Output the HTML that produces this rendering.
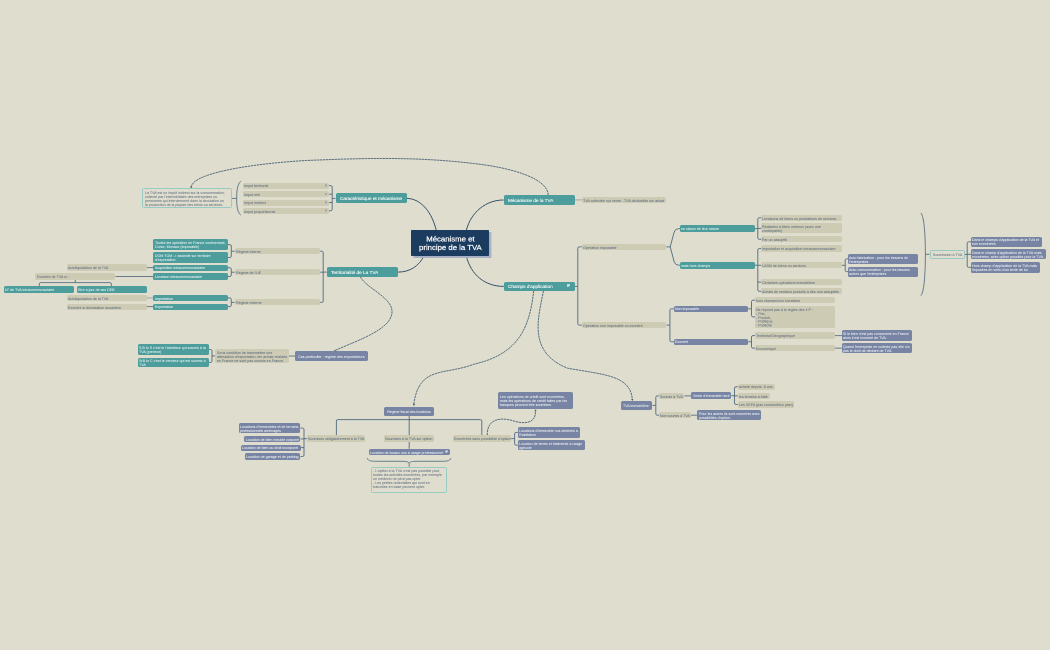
<!DOCTYPE html>
<html><head><meta charset="utf-8"><style>
html,body{margin:0;padding:0;}
body{width:1050px;height:650px;background:#dfddce;position:relative;overflow:hidden;font-family:"Liberation Sans",sans-serif;}
.n{position:absolute;box-sizing:border-box;border-radius:1.6px;overflow:visible;}
.tx{white-space:nowrap;position:absolute;transform:scale(0.5);transform-origin:0 0;will-change:transform;}
.nc{background:#1b3b5f;color:#fff;box-shadow:2.4px 2.1px 0 #a9b0c4;border-radius:0.8px;}
.nc .tx{font-weight:normal;-webkit-text-stroke:0.45px #fff;}
.nT{background:#4d9d9c;color:#fff;}
.nT .tx{-webkit-text-stroke:0.2px #fff;}
.nt{background:#4d9d9c;color:#fff;}
.nt .tx,.np .tx{-webkit-text-stroke:0;}
.np{background:#7784a3;color:#fff;}
.nb{background:#cecbb4;color:#51637a;}
.nn{background:transparent;border:0.6px solid #98cac3;color:#56677a;border-radius:1.4px;}
.ic{position:absolute;clip-path:polygon(0 0,100% 0,100% 50%,50% 100%,0 100%);}
svg{position:absolute;left:0;top:0;}
</style></head><body>
<svg width="1050" height="650" viewBox="0 0 1050 650">
<path d="M436.3,230.4 C432,213 422,199 406.8,198.3" stroke="#34526c" stroke-width="1.0" fill="none"/>
<path d="M466.3,230.4 C471,212 486,200 503.6,200" stroke="#34526c" stroke-width="1.0" fill="none"/>
<path d="M423.9,256 C419,266 410,272 398.1,272.1" stroke="#34526c" stroke-width="1.0" fill="none"/>
<path d="M466.3,256 C471,275 485,286.4 503.8,286.4" stroke="#34526c" stroke-width="1.0" fill="none"/>
<path d="M335.5,198.4 H332.2 M332.2,194.15 H329.0 M332.2,202.55 H329.0 M332.2,198.4 V187.05 Q332.2,185.65 330.8,185.65 H329.0 M332.2,198.4 V209.4 Q332.2,210.8 330.8,210.8 H329.0 " stroke="#47627a" stroke-width="0.85" fill="none"/>
<path d="M240.9,181.2 C237.2,184 236.6,192 236.7,198.4 C236.6,204.8 237.2,212.6 240.9,215.2 M236.7,198.4 H231.5" stroke="#47627a" stroke-width="0.8" fill="none"/>
<path d="M548.2,195.0 C547.8,178.5 512.0,167.7 473.5,163.5 C413.8,156.3 359.7,158.3 306.3,160.5 C265.6,162.7 193.5,171.1 191.1,187.0" stroke="#34506a" stroke-width="0.8" fill="none" stroke-dasharray="2.4 0.6"/>
<path d="M191.00,188.60 L190.19,186.47 L192.37,186.77 Z" fill="#3b556b"/>
<path d="M575,199.9 H581.8" stroke="#9aa3a8" stroke-width="0.9" fill="none"/>
<path d="M326.8,272.1 H323.2 M323.2,272.2 H320.1 M323.2,272.1 V252.6 Q323.2,251.2 321.8,251.2 H320.1 M323.2,272.1 V301.0 Q323.2,302.4 321.8,302.4 H320.1 " stroke="#47627a" stroke-width="0.85" fill="none"/>
<path d="M234.7,251.2 H231.3 M231.3,251.2 V246.0 Q231.3,244.6 229.9,244.6 H228.0 M231.3,251.2 V256.1 Q231.3,257.5 229.9,257.5 H228.0 " stroke="#47627a" stroke-width="0.85" fill="none"/>
<path d="M234.7,272.2 H231.3 M231.3,272.2 V269.15 Q231.3,267.75 229.9,267.75 H228.0 M231.3,272.2 V275.1 Q231.3,276.5 229.9,276.5 H228.0 " stroke="#47627a" stroke-width="0.85" fill="none"/>
<path d="M234.7,302.4 H231.3 M231.3,302.4 V299.34999999999997 Q231.3,297.95 229.9,297.95 H228.0 M231.3,302.4 V305.20000000000005 Q231.3,306.6 229.9,306.6 H228.0 " stroke="#47627a" stroke-width="0.85" fill="none"/>
<path d="M153.4,267.6 H146.9" stroke="#47627a" stroke-width="0.8" fill="none"/>
<path d="M153.4,276.5 H115.4" stroke="#47627a" stroke-width="0.8" fill="none"/>
<path d="M153.4,297.95 H146.9" stroke="#9aa3a8" stroke-width="0.9" fill="none"/>
<path d="M153.4,306.6 H146.9" stroke="#47627a" stroke-width="0.8" fill="none"/>
<path d="M75.3,279.7 V282.6 M39.3,286.4 V284 Q39.3,282.6 40.7,282.6 H109.9 Q111.4,282.6 111.4,284 V286.4" stroke="#47627a" stroke-width="0.8" fill="none"/>
<path d="M360.3,276.8 C368.0,291.1 405.0,301.2 387.3,322.8 C375.8,335.0 351.8,342.7 335.0,350.6" stroke="#34506a" stroke-width="0.8" fill="none" stroke-dasharray="2.4 0.6"/>
<path d="M333.70,351.30 L335.05,349.46 L335.98,351.45 Z" fill="#3b556b"/>
<path d="M295.3,356.05 H288.7" stroke="#47627a" stroke-width="0.8" fill="none"/>
<path d="M215.4,355.95 H212.0 M212.0,355.95 V350.9 Q212.0,349.5 210.6,349.5 H208.8 M212.0,355.95 V361.05 Q212.0,362.45 210.6,362.45 H208.8 " stroke="#47627a" stroke-width="0.85" fill="none"/>
<path d="M574.9,286.4 H577.8 M577.8,286.4 V248.25 Q577.8,246.85 579.1999999999999,246.85 H581.8 M577.8,286.4 V323.70000000000005 Q577.8,325.1 579.1999999999999,325.1 H581.8 " stroke="#47627a" stroke-width="0.85" fill="none"/>
<path d="M666.5,246.85 H670.2 L674.2,232 Q675.3,228.65 678.6,228.65 H680.1 M670.2,246.85 L674.2,261.8 Q675.3,265.2 678.6,265.2 H680.1" stroke="#47627a" stroke-width="0.85" fill="none"/>
<path d="M754.9,228.65 H757.8 M757.8,228.4 H761.0 M757.8,228.65 V219.20000000000002 Q757.8,217.8 759.1999999999999,217.8 H761.0 M757.8,228.65 V237.9 Q757.8,239.3 759.1999999999999,239.3 H761.0 " stroke="#47627a" stroke-width="0.85" fill="none"/>
<path d="M754.9,265.2 H757.8 M757.8,265.3 H761.0 M757.8,282.1 H761.0 M757.8,265.2 V249.95000000000002 Q757.8,248.55 759.1999999999999,248.55 H761.0 M757.8,265.2 V289.90000000000003 Q757.8,291.3 759.1999999999999,291.3 H761.0 " stroke="#47627a" stroke-width="0.85" fill="none"/>
<path d="M841.5,265.3 H845.2 M845.2,265.3 V260.25 Q845.2,258.85 846.6,258.85 H848.2 M845.2,265.3 V270.25 Q845.2,271.65 846.6,271.65 H848.2 " stroke="#47627a" stroke-width="0.85" fill="none"/>
<path d="M920.8,213 C924.5,216 925.4,240 925.4,254.3 C925.4,268.6 924.5,292.6 920.8,295.6 M925.4,254.3 H929.6" stroke="#47627a" stroke-width="0.8" fill="none"/>
<path d="M964.7,254.45 H967.2 M967.2,254.3 H971.1 M967.2,254.45 V243.20000000000002 Q967.2,241.8 968.6,241.8 H971.1 M967.2,254.45 V265.95000000000005 Q967.2,267.35 968.6,267.35 H971.1 " stroke="#47627a" stroke-width="0.85" fill="none"/>
<path d="M666.5,325.1 H669.9 M669.9,325.1 V310.2 Q669.9,308.8 671.3,308.8 H673.9 M669.9,325.1 V340.35 Q669.9,341.75 671.3,341.75 H673.9 " stroke="#47627a" stroke-width="0.85" fill="none"/>
<path d="M748.2,308.8 H751.5 M751.5,308.8 V301.54999999999995 Q751.5,300.15 752.9,300.15 H755.0 M751.5,308.8 V315.45000000000005 Q751.5,316.85 752.9,316.85 H755.0 " stroke="#47627a" stroke-width="0.85" fill="none"/>
<path d="M748.2,341.75 H751.5 M751.5,341.75 V337.0 Q751.5,335.6 752.9,335.6 H755.0 M751.5,341.75 V346.75 Q751.5,348.15 752.9,348.15 H755.0 " stroke="#47627a" stroke-width="0.85" fill="none"/>
<path d="M834.8,335.6 H842" stroke="#47627a" stroke-width="0.8" fill="none"/>
<path d="M834.8,348.15 H842" stroke="#47627a" stroke-width="0.8" fill="none"/>
<path d="M533.7,290.9 C529.6,327.6 518.8,354.0 473.9,364.2 C444.7,375.5 419.3,365.3 413.8,404.0" stroke="#34506a" stroke-width="0.8" fill="none" stroke-dasharray="2.4 0.6"/>
<path d="M413.80,405.90 L412.99,403.77 L415.17,404.07 Z" fill="#3b556b"/>
<path d="M543.5,290.9 C537.8,319.3 528.1,352.5 567.6,368.2 C603.7,374.8 630.3,375.1 632.3,399.2" stroke="#34506a" stroke-width="0.8" fill="none" stroke-dasharray="2.4 0.6"/>
<path d="M632.40,401.00 L631.13,399.10 L633.32,398.91 Z" fill="#3b556b"/>
<path d="M652.4,405.4 H655.8 M655.8,405.4 V397.29999999999995 Q655.8,395.9 657.1999999999999,395.9 H659.0 M655.8,405.4 V413.8 Q655.8,415.2 657.1999999999999,415.2 H659.0 " stroke="#47627a" stroke-width="0.85" fill="none"/>
<path d="M684.3,395.9 H691.3" stroke="#47627a" stroke-width="0.8" fill="none"/>
<path d="M731.4,395.65 H734.5 M734.5,395.9 H737.8 M734.5,395.65 V388.09999999999997 Q734.5,386.7 735.9,386.7 H737.8 M734.5,395.65 V403.1 Q734.5,404.5 735.9,404.5 H737.8 " stroke="#47627a" stroke-width="0.85" fill="none"/>
<path d="M690.5,415.2 H697.4" stroke="#47627a" stroke-width="0.8" fill="none"/>
<path d="M409.2,415.8 V448.7 M336.4,435.8 V421 Q336.4,419.6 337.8,419.6 H480.4 Q481.8,419.6 481.8,421 V435.6" stroke="#47627a" stroke-width="0.85" fill="none"/>
<path d="M307.2,438.65 H304.0 M304.0,438.9 H300.5 M304.0,447.6 H300.5 M304.0,438.65 V429.5 Q304.0,428.1 302.6,428.1 H300.5 M304.0,438.65 V455.1 Q304.0,456.5 302.6,456.5 H300.5 " stroke="#47627a" stroke-width="0.85" fill="none"/>
<path d="M367.3,458.1 C368,461.5 372,461.3 380,461.3 H402 C406,461.3 408.8,461.8 409.2,463.3 C409.6,461.8 412.4,461.3 416.4,461.3 H438 C446,461.3 450,461.5 450.8,458.1 M409.2,463.3 V466.8" stroke="#47627a" stroke-width="0.75" fill="none"/>
<path d="M511.1,438.6 H514.6 M514.6,438.6 V433.84999999999997 Q514.6,432.45 516.0,432.45 H517.7 M514.6,438.6 V443.75 Q514.6,445.15 516.0,445.15 H517.7 " stroke="#47627a" stroke-width="0.85" fill="none"/>
<path d="M487.3,435.3 C486.7,425.3 492.7,414.2 515.3,421.4 C523.7,423.9 536.3,423.7 535.4,411.0" stroke="#34506a" stroke-width="0.8" fill="none" stroke-dasharray="2.4 0.6"/>
<path d="M535.40,409.20 L536.64,411.12 L534.44,411.27 Z" fill="#3b556b"/>
</svg>
<div class="n nc" style="left:410.70px;top:230.40px;width:78.80px;height:25.50px;"><div class="tx" style="font-size:15.52px;line-height:16.80px;top:4.75px;left:0px;width:157.60px;text-align:center;">Mécanisme et<br>principe de la TVA</div></div>
<div class="n nT" style="left:335.50px;top:193.20px;width:71.30px;height:10.30px;"><div class="tx" style="font-size:9.40px;line-height:10.00px;top:3.15px;left:4.2px;">Caractéristique et mécanisme</div></div>
<div class="n nT" style="left:503.60px;top:195.00px;width:71.40px;height:9.90px;"><div class="tx" style="font-size:9.40px;line-height:10.00px;top:2.95px;left:4.2px;">Mécanisme de la TVA</div></div>
<div class="n nT" style="left:326.80px;top:267.10px;width:71.30px;height:9.90px;"><div class="tx" style="font-size:9.40px;line-height:10.00px;top:2.95px;left:4.2px;">Territorialité de La TVA</div></div>
<div class="n nT" style="left:503.80px;top:281.70px;width:71.10px;height:9.40px;"><div class="tx" style="font-size:9.40px;line-height:10.00px;top:2.70px;left:4.2px;">Champs d'application</div><i class="ic" style="right:4.8px;top:2.3px;width:3.2px;height:3px;background:#bfe0e0"></i></div>
<div class="n nb" style="left:243.20px;top:182.70px;width:85.80px;height:5.90px;"><div class="tx" style="font-size:7.28px;line-height:7.80px;top:1.70px;left:1.3px;">Impot territorial</div><i class="ic" style="right:1.9px;top:1.6px;width:2.6px;height:2.7px;background:#a3a9ad"></i></div>
<div class="n nb" style="left:243.20px;top:191.20px;width:85.80px;height:5.90px;"><div class="tx" style="font-size:7.28px;line-height:7.80px;top:1.70px;left:1.3px;">Impot réel</div><i class="ic" style="right:1.9px;top:1.6px;width:2.6px;height:2.7px;background:#a3a9ad"></i></div>
<div class="n nb" style="left:243.20px;top:199.50px;width:85.80px;height:6.10px;"><div class="tx" style="font-size:7.28px;line-height:7.80px;top:1.80px;left:1.3px;">Impot indirect</div><i class="ic" style="right:1.9px;top:1.6px;width:2.6px;height:2.7px;background:#a3a9ad"></i></div>
<div class="n nb" style="left:243.20px;top:207.60px;width:85.80px;height:6.40px;"><div class="tx" style="font-size:7.28px;line-height:7.80px;top:1.95px;left:1.3px;">Impot proportionnel</div><i class="ic" style="right:1.9px;top:1.6px;width:2.6px;height:2.7px;background:#a3a9ad"></i></div>
<div class="n nn" style="left:142.40px;top:188.30px;width:89.50px;height:19.30px;"><div class="tx" style="font-size:7.20px;line-height:7.90px;top:1.45px;left:1.3px;">La TVA est un impôt indirect sur la consommation,<br>collecté par l'intermédiaire des entreprises ou<br>personnes qui interviennent dans la circulation ou<br>la production de la plupart des biens ou services.</div></div>
<div class="n nb" style="left:581.80px;top:196.80px;width:84.70px;height:6.00px;"><div class="tx" style="font-size:7.28px;line-height:7.80px;top:1.75px;left:1.3px;">TVA collectée sur vente - TVA déductible sur achat</div></div>
<div class="n nb" style="left:234.70px;top:248.10px;width:85.40px;height:6.20px;"><div class="tx" style="font-size:7.28px;line-height:7.80px;top:1.85px;left:1.3px;">Régime interne</div></div>
<div class="n nb" style="left:234.70px;top:269.10px;width:85.40px;height:6.20px;"><div class="tx" style="font-size:7.28px;line-height:7.80px;top:1.85px;left:1.3px;">Régime de l'UE</div></div>
<div class="n nb" style="left:234.70px;top:299.30px;width:85.40px;height:6.20px;"><div class="tx" style="font-size:7.28px;line-height:7.80px;top:1.85px;left:1.3px;">Régime externe</div></div>
<div class="n nt" style="left:153.40px;top:239.30px;width:74.60px;height:10.60px;"><div class="tx" style="font-size:7.20px;line-height:7.80px;top:2.00px;left:1.3px;">Toutes les opération en France continentale,<br>Corse, Monaco (imposable)</div></div>
<div class="n nt" style="left:153.40px;top:252.30px;width:74.60px;height:10.40px;"><div class="tx" style="font-size:7.20px;line-height:7.80px;top:1.90px;left:1.3px;">DOM TOM -> assimilé sur territoire<br>d'exportation</div></div>
<div class="n nt" style="left:153.40px;top:264.50px;width:74.60px;height:6.50px;"><div class="tx" style="font-size:7.20px;line-height:7.80px;top:1.90px;left:1.3px;">Acquisition intracommunautaire</div></div>
<div class="n nt" style="left:153.40px;top:273.10px;width:74.60px;height:6.80px;"><div class="tx" style="font-size:7.20px;line-height:7.80px;top:2.05px;left:1.3px;">Livraison intracommunautaire</div></div>
<div class="n nt" style="left:153.40px;top:294.90px;width:74.60px;height:6.10px;"><div class="tx" style="font-size:7.20px;line-height:7.80px;top:1.70px;left:1.3px;">Importation</div></div>
<div class="n nt" style="left:153.40px;top:303.50px;width:74.60px;height:6.20px;"><div class="tx" style="font-size:7.20px;line-height:7.80px;top:1.75px;left:1.3px;">Exportation</div></div>
<div class="n nb" style="left:66.90px;top:264.30px;width:80.00px;height:6.40px;"><div class="tx" style="font-size:7.28px;line-height:7.80px;top:1.95px;left:1.3px;">Autoliquidation de la TVA</div></div>
<div class="n nb" style="left:35.40px;top:273.30px;width:80.00px;height:6.40px;"><div class="tx" style="font-size:7.28px;line-height:7.80px;top:1.95px;left:1.3px;">Exonéré de TVA si :</div></div>
<div class="n nt" style="left:4.00px;top:286.40px;width:70.30px;height:6.70px;"><div class="tx" style="font-size:7.20px;line-height:7.80px;top:2.00px;left:1.3px;">N° de TVA intracommunautaire</div></div>
<div class="n nt" style="left:76.90px;top:286.40px;width:70.00px;height:6.70px;"><div class="tx" style="font-size:7.20px;line-height:7.80px;top:2.00px;left:1.3px;">Etre à jour de ses DEB</div></div>
<div class="n nb" style="left:66.90px;top:294.70px;width:80.00px;height:6.40px;"><div class="tx" style="font-size:7.28px;line-height:7.80px;top:1.95px;left:1.3px;">Autoliquidation de la TVA</div></div>
<div class="n nb" style="left:66.90px;top:303.60px;width:80.00px;height:6.40px;"><div class="tx" style="font-size:7.28px;line-height:7.80px;top:1.95px;left:1.3px;">Exonéré si déclaration douanière</div></div>
<div class="n np" style="left:295.30px;top:351.30px;width:72.60px;height:9.50px;"><div class="tx" style="font-size:7.40px;line-height:7.80px;top:3.40px;left:2.4px;">Cas particulier : régime des exportateurs</div></div>
<div class="n nb" style="left:215.40px;top:348.90px;width:73.30px;height:14.10px;"><div class="tx" style="font-size:7.28px;line-height:7.80px;top:1.90px;left:1.3px;">Sous condition de transmettre une<br>attestation d'exportation, les achats réalisés<br>en France ne sont pas soumis en France.</div></div>
<div class="n nt" style="left:138.20px;top:344.40px;width:70.60px;height:10.20px;"><div class="tx" style="font-size:7.20px;line-height:7.80px;top:1.80px;left:1.3px;">S.B to S c'est le l'acheteur qui soumis à la<br>TVA (preneur)</div></div>
<div class="n nt" style="left:138.20px;top:357.50px;width:70.60px;height:9.90px;"><div class="tx" style="font-size:7.20px;line-height:7.80px;top:1.65px;left:1.3px;">SrB to C c'est le vendeur qui est soumis à<br>TVA</div></div>
<div class="n nb" style="left:581.80px;top:243.90px;width:84.70px;height:5.90px;"><div class="tx" style="font-size:7.28px;line-height:7.80px;top:1.70px;left:1.3px;">Opération imposable</div></div>
<div class="n nb" style="left:581.80px;top:322.10px;width:84.70px;height:6.00px;"><div class="tx" style="font-size:7.28px;line-height:7.80px;top:1.75px;left:1.3px;">Opération non imposable ou exonéré</div></div>
<div class="n nt" style="left:680.10px;top:225.30px;width:74.80px;height:6.70px;"><div class="tx" style="font-size:7.20px;line-height:7.80px;top:2.00px;left:1.3px;">en raison de leur nature</div></div>
<div class="n nt" style="left:680.10px;top:261.70px;width:74.80px;height:7.00px;"><div class="tx" style="font-size:7.20px;line-height:7.80px;top:2.15px;left:1.3px;font-weight:normal;">mais hors champs</div></div>
<div class="n nb" style="left:761.00px;top:214.70px;width:80.50px;height:6.20px;"><div class="tx" style="font-size:7.28px;line-height:7.80px;top:1.85px;left:1.3px;">Livraisons de biens ou prestations de services</div></div>
<div class="n nb" style="left:761.00px;top:223.30px;width:80.50px;height:10.20px;"><div class="tx" style="font-size:7.28px;line-height:7.80px;top:1.90px;left:1.3px;">Réalisées à titres onéreux (avec une<br>contrepartie)</div></div>
<div class="n nb" style="left:761.00px;top:236.20px;width:80.50px;height:6.20px;"><div class="tx" style="font-size:7.28px;line-height:7.80px;top:1.85px;left:1.3px;">Par un assujetti</div></div>
<div class="n nb" style="left:761.00px;top:245.30px;width:80.50px;height:6.50px;"><div class="tx" style="font-size:7.28px;line-height:7.80px;top:2.00px;left:1.3px;">Importation et acquisition intracommunautaire</div></div>
<div class="n nb" style="left:761.00px;top:262.20px;width:80.50px;height:6.20px;"><div class="tx" style="font-size:7.28px;line-height:7.80px;top:1.85px;left:1.3px;">LASM de biens ou services</div></div>
<div class="n nb" style="left:761.00px;top:279.00px;width:80.50px;height:6.20px;"><div class="tx" style="font-size:7.28px;line-height:7.80px;top:1.85px;left:1.3px;">Certaines opérations immobilière</div></div>
<div class="n nb" style="left:761.00px;top:288.20px;width:80.50px;height:6.20px;"><div class="tx" style="font-size:7.28px;line-height:7.80px;top:1.85px;left:1.3px;">Achats de certains produits à des non assujettis</div></div>
<div class="n np" style="left:848.20px;top:253.50px;width:70.10px;height:10.70px;"><div class="tx" style="font-size:7.20px;line-height:7.80px;top:2.05px;left:1.3px;">Auto fabrication : pour les besoins de<br>l'entreprises</div></div>
<div class="n np" style="left:848.20px;top:266.70px;width:70.10px;height:9.90px;"><div class="tx" style="font-size:7.20px;line-height:7.80px;top:1.65px;left:1.3px;">Auto consommation : pour les besoins<br>autres que l'entreprises</div></div>
<div class="n nn" style="left:929.60px;top:250.30px;width:35.10px;height:8.30px;"><div class="tx" style="font-size:7.20px;line-height:7.90px;top:1.68px;left:-0.6px;width:70.20px;text-align:center;">Soumission à TVA</div></div>
<div class="n np" style="left:971.10px;top:236.70px;width:70.80px;height:10.20px;"><div class="tx" style="font-size:7.20px;line-height:7.80px;top:1.80px;left:1.3px;">Dans le champs d'application de la TVA et<br>non exonérées</div></div>
<div class="n np" style="left:971.10px;top:249.30px;width:74.60px;height:10.00px;"><div class="tx" style="font-size:7.20px;line-height:7.80px;top:1.70px;left:1.3px;">Dans le champ d'application de la TVA mais<br>exonérées, avec option possible pour la TVA.</div></div>
<div class="n np" style="left:971.10px;top:262.10px;width:68.60px;height:10.50px;"><div class="tx" style="font-size:7.20px;line-height:7.80px;top:1.95px;left:1.3px;">Hors champ d'application de la TVA mais<br>imposées en vertu d'un texte de loi.</div></div>
<div class="n np" style="left:673.90px;top:305.50px;width:74.30px;height:6.60px;"><div class="tx" style="font-size:7.20px;line-height:7.80px;top:1.95px;left:1.3px;">Non imposable</div></div>
<div class="n np" style="left:673.90px;top:338.50px;width:74.30px;height:6.50px;"><div class="tx" style="font-size:7.20px;line-height:7.80px;top:1.90px;left:1.3px;">Exonéré</div></div>
<div class="n nb" style="left:755.00px;top:296.90px;width:79.80px;height:6.50px;"><div class="tx" style="font-size:7.28px;line-height:7.80px;top:2.00px;left:1.3px;">hors champs/non lucratives</div></div>
<div class="n nb" style="left:755.00px;top:306.00px;width:79.80px;height:21.70px;"><div class="tx" style="font-size:7.28px;line-height:7.80px;top:1.80px;left:1.3px;">Ne répond pas à la règles des 4 P :<br>- Prix,<br>- Produit,<br>- Publique,<br>- Publicité</div></div>
<div class="n nb" style="left:755.00px;top:332.30px;width:79.80px;height:6.60px;"><div class="tx" style="font-size:7.28px;line-height:7.80px;top:2.05px;left:1.3px;">Territorial/Géographique</div></div>
<div class="n nb" style="left:755.00px;top:344.90px;width:79.80px;height:6.50px;"><div class="tx" style="font-size:7.28px;line-height:7.80px;top:2.00px;left:1.3px;">Economique</div></div>
<div class="n np" style="left:842.00px;top:330.30px;width:70.00px;height:10.30px;"><div class="tx" style="font-size:7.20px;line-height:7.80px;top:1.85px;left:1.3px;">Si le bien n'est pas consommé en France<br>alors il est exonéré de TVA.</div></div>
<div class="n np" style="left:842.00px;top:343.10px;width:70.00px;height:10.30px;"><div class="tx" style="font-size:7.20px;line-height:7.80px;top:1.85px;left:1.3px;">Quand l'entreprise ne collecte pas elle n'a<br>pas le droit de déduire de TVA.</div></div>
<div class="n np" style="left:621.20px;top:400.70px;width:31.20px;height:9.40px;"><div class="tx" style="font-size:7.20px;line-height:7.80px;top:3.35px;left:1.8px;">TVA immobilière</div></div>
<div class="n nb" style="left:659.00px;top:392.80px;width:25.30px;height:6.20px;"><div class="tx" style="font-size:7.28px;line-height:7.80px;top:1.85px;left:1.3px;">Soumis à TVA</div></div>
<div class="n nb" style="left:659.00px;top:412.10px;width:31.50px;height:6.20px;"><div class="tx" style="font-size:7.28px;line-height:7.80px;top:1.85px;left:1.3px;">Non soumis à TVA</div></div>
<div class="n np" style="left:691.30px;top:392.30px;width:40.10px;height:6.70px;"><div class="tx" style="font-size:7.20px;line-height:7.80px;top:2.00px;left:1.3px;">Vente d'immeuble neuf</div></div>
<div class="n nb" style="left:737.80px;top:383.60px;width:37.70px;height:6.20px;"><div class="tx" style="font-size:7.28px;line-height:7.80px;top:1.85px;left:1.3px;">acheté depuis -5 ans</div></div>
<div class="n nb" style="left:737.80px;top:392.80px;width:32.20px;height:6.20px;"><div class="tx" style="font-size:7.28px;line-height:7.80px;top:1.85px;left:1.3px;">les terrains à bâtir</div></div>
<div class="n nb" style="left:737.80px;top:401.40px;width:56.20px;height:6.20px;"><div class="tx" style="font-size:7.28px;line-height:7.80px;top:1.85px;left:1.3px;">Les VEFA (pas construit/sur plan)</div></div>
<div class="n np" style="left:697.40px;top:410.10px;width:63.70px;height:10.40px;"><div class="tx" style="font-size:7.20px;line-height:7.80px;top:1.90px;left:1.3px;">Pour les autres ils sont exonérés avec<br>possibilités d'option.</div></div>
<div class="n np" style="left:384.30px;top:407.00px;width:49.70px;height:9.00px;"><div class="tx" style="font-size:7.20px;line-height:7.80px;top:3.15px;left:0px;width:99.40px;text-align:center;">Régime fiscal des locations</div></div>
<div class="n nb" style="left:307.20px;top:435.40px;width:58.20px;height:6.30px;"><div class="tx" style="font-size:7.28px;line-height:7.80px;top:1.90px;left:1.3px;">Soumises obligatoirement à la TVA</div></div>
<div class="n nb" style="left:384.20px;top:435.40px;width:49.50px;height:6.30px;"><div class="tx" style="font-size:7.28px;line-height:7.80px;top:1.90px;left:0px;width:99.00px;text-align:center;">Soumises à la TVA sur option</div></div>
<div class="n nb" style="left:452.90px;top:435.40px;width:58.20px;height:6.30px;"><div class="tx" style="font-size:7.28px;line-height:7.80px;top:1.90px;left:1.3px;">Exonérées sans possibilité d'option</div></div>
<div class="n np" style="left:238.60px;top:422.90px;width:61.90px;height:10.40px;"><div class="tx" style="font-size:7.20px;line-height:7.80px;top:1.90px;left:1.3px;">Locations d'immeubles et de terrains<br>professionnels aménagés</div></div>
<div class="n np" style="left:244.30px;top:435.80px;width:56.20px;height:6.20px;"><div class="tx" style="font-size:7.20px;line-height:7.80px;top:1.75px;left:1.3px;">Location de bien meuble corporel</div></div>
<div class="n np" style="left:241.00px;top:444.50px;width:59.50px;height:6.20px;"><div class="tx" style="font-size:7.20px;line-height:7.80px;top:1.75px;left:1.3px;">Location de bien ou droit incorporel</div></div>
<div class="n np" style="left:244.80px;top:453.20px;width:55.70px;height:6.60px;"><div class="tx" style="font-size:7.20px;line-height:7.80px;top:1.95px;left:1.3px;">Location de garage et de parking</div></div>
<div class="n np" style="left:368.60px;top:448.70px;width:81.20px;height:6.40px;"><div class="tx" style="font-size:7.20px;line-height:7.80px;top:1.85px;left:1.3px;">Location de locaux nus à usage professionnel</div><i class="ic" style="right:1.9px;top:1.6px;width:2.5px;height:2.7px;background:#c9cfe0"></i></div>
<div class="n nn" style="left:370.60px;top:466.80px;width:76.70px;height:26.70px;"><div class="tx" style="font-size:7.20px;line-height:7.90px;top:1.45px;left:1.3px;">- L'option à la TVA n'est pas possible pour<br>toutes les activités exonérées, par exemple<br>un médecin ne peut pas opter.<br>- Les petites redevables qui sont en<br>franchise en base peuvent opter.</div></div>
<div class="n np" style="left:517.70px;top:427.00px;width:62.00px;height:10.90px;"><div class="tx" style="font-size:7.20px;line-height:7.80px;top:2.15px;left:1.3px;">Locations d'immeuble nus destinés à<br>l'habitation</div></div>
<div class="n np" style="left:517.70px;top:439.80px;width:66.90px;height:10.70px;"><div class="tx" style="font-size:7.20px;line-height:7.80px;top:2.05px;left:1.3px;">Location de terres et bâtiments à usage<br>agricole</div></div>
<div class="n np" style="left:498.20px;top:392.00px;width:74.80px;height:16.90px;"><div class="tx" style="font-size:7.20px;line-height:7.80px;top:3.20px;left:2.0px;">Les opérations de crédit sont exonérées,<br>mais les opérations de crédit faites par les<br>banques peuvent être soumises.</div></div>
</body></html>
